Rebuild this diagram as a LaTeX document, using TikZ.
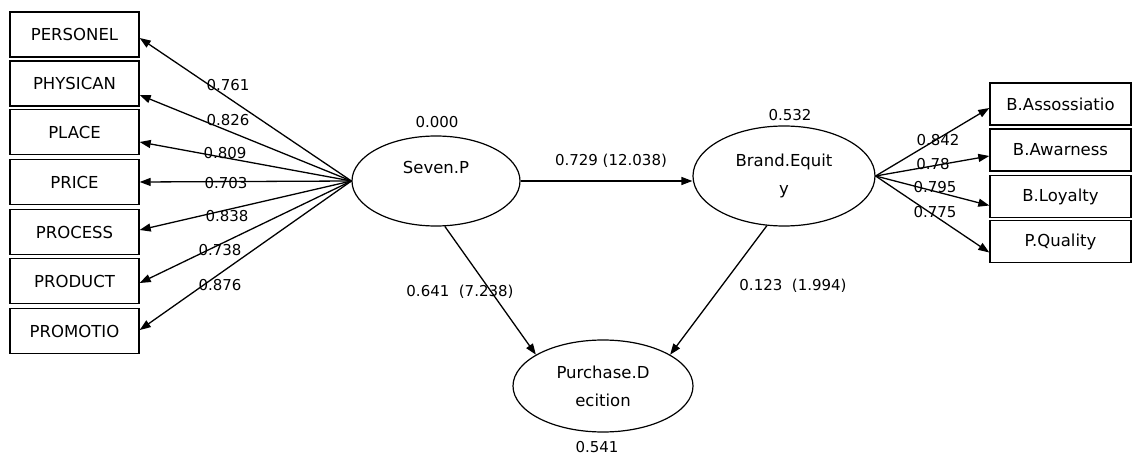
\documentclass[tikz,border=0pt]{standalone}
\usepackage{fontspec}
\setmainfont{DejaVu Sans}
\usetikzlibrary{shapes.geometric,arrows.meta}
\newcommand\lblfont{\fontsize{16.5}{28}\selectfont}
\newcommand\numfont{\fontsize{15}{18}\selectfont}
\begin{document}
\begin{tikzpicture}[x=1pt,y=-1pt,
  box/.style={draw,line width=1.4pt,minimum width=129pt,minimum height=45pt,inner sep=0pt,font=\lblfont},
  rbox/.style={box,minimum width=141pt,minimum height=42pt},
  lat/.style={draw,ellipse,line width=1.2pt,inner sep=0pt,align=center,font=\lblfont},
  num/.style={font=\numfont,inner sep=0pt},
  arr/.style={line width=1.3pt,-{Triangle[length=11pt,width=8pt]}}]
\useasboundingbox (0,0) rectangle (1132,454);
% left indicator boxes
\node[box] (b1) at (74.5,34.5) {PERSONEL};
\node[box] (b2) at (74.5,83.5) {PHYSICAN};
\node[box] (b3) at (74.5,132) {PLACE};
\node[box] (b4) at (74.5,182) {PRICE};
\node[box] (b5) at (74.5,232) {PROCESS};
\node[box] (b6) at (74.5,281) {PRODUCT};
\node[box] (b7) at (74.5,331) {PROMOTIO};
% right indicator boxes
\node[rbox] (r1) at (1060.5,104) {B.Assossiatio};
\node[rbox] (r2) at (1060.5,150) {B.Awarness};
\node[rbox] (r3) at (1060.5,196.5) {B.Loyalty};
\node[rbox] (r4) at (1060.5,241.5) {P.Quality};
% latent variables
\node[lat,minimum width=168pt,minimum height=90pt] (SP) at (436,181) {Seven.P\\\mbox{}};
\node[lat,minimum width=182pt,minimum height=100pt] (BE) at (784,176) {Brand.Equit\\y};
\node[lat,minimum width=180pt,minimum height=92pt] (PD) at (603,386) {Purchase.D\\ecition};
% connectors
\foreach \n/\d in {b1/-3.5,b2/-11.5,b3/-10,b4/0,b5/2,b6/-2,b7/1}
  \draw[arr] (SP.west) -- ([yshift=\d pt]\n.east);
\foreach \n/\d in {r1/-4,r2/-6,r3/-9,r4/-11}
  \draw[arr] (BE.east) -- ([yshift=\d pt]\n.west);
\draw[arr] (SP.east) -- (SP.east -| BE.west);
\draw[arr] (SP.-79) -- (PD.155);
\draw[arr] (BE.-109) -- (PD.25);
% numbers
\node[num] (l1) at (228,85) {0.761};
\node[num] (l2) at (228,120) {0.826};
\node[num] (l3) at (225,153) {0.809};
\node[num] (l4) at (226,183) {0.703};
\node[num] (l5) at (227,216) {0.838};
\node[num] (l6) at (220,250) {0.738};
\node[num] (l7) at (220,285) {0.876};
\node[num] (m1) at (938,140) {0.842};
\node[num] (m2) at (933,164) {0.78};
\node[num] (m3) at (935,187) {0.795};
\node[num] (m4) at (935,212) {0.775};
\node[num] (p1) at (611,161) {0.729 (12.038)};
\node[num] (p2) at (460,292) {0.641\ \ (7.238)};
\node[num] (p3) at (793,286) {0.123\ \ (1.994)};
\node[num] (v1) at (437,122) {0.000};
\node[num] (v2) at (790,115) {0.532};
\node[num] (v3) at (597,447) {0.541};
\end{tikzpicture}
\end{document}
